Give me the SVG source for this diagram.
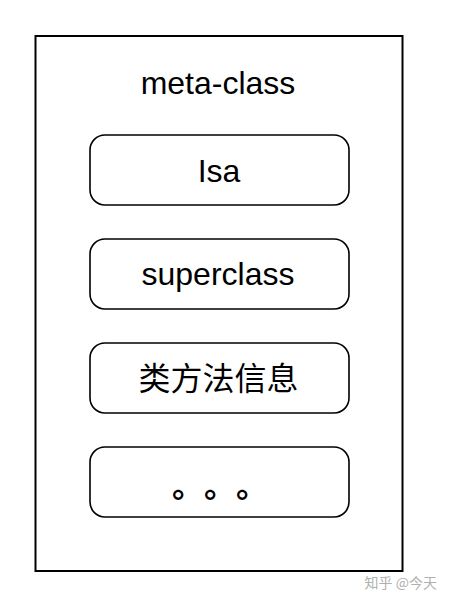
<svg xmlns="http://www.w3.org/2000/svg" width="450" height="602" viewBox="0 0 450 602">
<style>
.box{fill:#fff;stroke:#000;stroke-width:1.6}
.t{font-family:"Liberation Sans","Noto Sans CJK SC",sans-serif;font-size:32px;fill:#000;text-anchor:middle}
.c{font-family:"Noto Sans CJK SC",sans-serif;font-size:32px;fill:#000;text-anchor:middle}
</style>
<rect width="450" height="602" fill="#fff"/>
<g id="meta-class">
<rect x="35.5" y="36" width="367" height="535" fill="#fff" stroke="#000" stroke-width="2"/>
<text class="t" x="218" y="94">meta-class</text>
</g>
<g id="isa">
<rect class="box" x="90" y="135" width="259" height="70" rx="15"/>
<text class="t" x="219" y="182">Isa</text>
</g>
<g id="superclass">
<rect class="box" x="90" y="239" width="259" height="70" rx="15"/>
<text class="t" x="218" y="285">superclass</text>
</g>
<g id="methods">
<rect class="box" x="90" y="343" width="259" height="70" rx="15"/>
<text class="c" x="218.5" y="390">类方法信息</text>
</g>
<g id="more">
<rect class="box" x="90" y="447" width="259" height="70" rx="15"/>
<text class="c" y="497" font-weight="bold"><tspan x="188">。</tspan><tspan x="220">。</tspan><tspan x="252">。</tspan></text>
</g>
<g id="connectors"/>
<text x="437" y="588" font-family="'Noto Sans CJK SC',sans-serif" font-size="14" fill="#b0b0b0" text-anchor="end">知乎 @今天</text>
</svg>
